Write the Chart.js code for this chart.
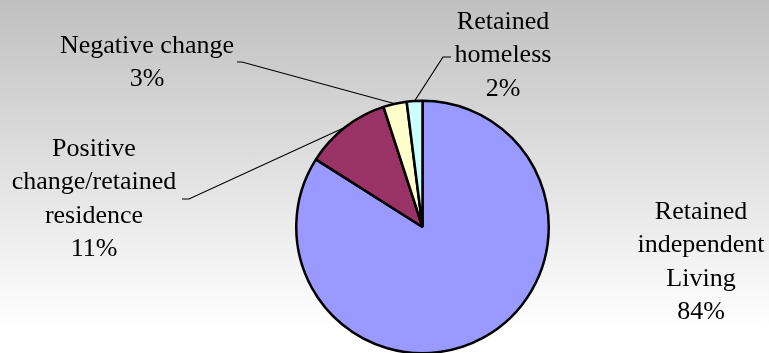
<!DOCTYPE html>
<html lang="en">

<head>
    <meta charset="UTF-8">
    <title>Outcome pie</title>
    <script src="https://cdn.jsdelivr.net/npm/chart.js"></script>
    <style>
        html, body { margin: 0; padding: 0; overflow: hidden; }
        .wrap {
            position: relative;
            width: 769px;
            height: 355px;
            background: linear-gradient(#c0c0c0, #ffffff 92%);
        }
    </style>
</head>

<body>
    <div class="wrap">
        <canvas id="grafico"></canvas>
    </div>

<script>
    // data
    const categorias = [
        ['Retained', 'independent', 'Living'],
        ['Positive', 'change/retained', 'residence'],
        ['Negative change'],
        ['Retained', 'homeless']
    ];
    const valores = [84, 11, 3, 2];
    const cores = ['#9999ff', '#993366', '#ffffcc', '#ccffff'];

    // where each label sits, and the bend of its leader line (null = no line)
    const rotulos = [
        { x: 701, y: 212, bend: null },
        { x: 94, y: 149, bend: [189, 199], end: [182, 199] },
        { x: 147, y: 46, bend: [242, 62], end: [237, 62] },
        { x: 503, y: 22, bend: [443, 57], end: [451, 57] }
    ];

    const total = valores.reduce((a, b) => a + b, 0);

    const rotulosPlugin = {
        id: 'rotulos',
        afterDraw(chart) {
            const ctx = chart.ctx;
            const arcos = chart.getDatasetMeta(0).data;
            ctx.save();

            // leader lines from slice middle to label
            ctx.strokeStyle = '#000';
            ctx.lineWidth = 1.2;
            arcos.forEach((arco, i) => {
                const r = rotulos[i];
                if (!r.bend) return;
                const meio = (arco.startAngle + arco.endAngle) / 2;
                const px = arco.x + Math.cos(meio) * arco.outerRadius;
                const py = arco.y + Math.sin(meio) * arco.outerRadius;
                ctx.beginPath();
                ctx.moveTo(px, py);
                ctx.lineTo(r.bend[0], r.bend[1]);
                ctx.lineTo(r.end[0], r.end[1]);
                ctx.stroke();
            });

            // text
            ctx.fillStyle = '#000';
            ctx.font = '26px "Liberation Serif", "Times New Roman", serif';
            ctx.textAlign = 'center';
            ctx.textBaseline = 'middle';
            categorias.forEach((linhas, i) => {
                const r = rotulos[i];
                const pct = Math.round(valores[i] / total * 100) + '%';
                linhas.concat([pct]).forEach((t, k) => {
                    ctx.fillText(t, r.x, r.y + k * 33.5);
                });
            });
            ctx.restore();
        }
    };

    new Chart(document.getElementById('grafico'), {
        type: 'pie',
        data: {
            labels: categorias.map(c => c.join(' ')),
            datasets: [{
                data: valores,
                backgroundColor: cores,
                borderColor: '#000',
                borderWidth: 2.5
            }]
        },
        options: {
            responsive: true,
            maintainAspectRatio: false,
            animation: false,
            events: [],
            layout: {
                padding: { left: 295, right: 219, top: 99, bottom: 0 }
            },
            plugins: {
                legend: { display: false },
                tooltip: { enabled: false }
            }
        },
        plugins: [rotulosPlugin]
    });
</script>
</body>

</html>
